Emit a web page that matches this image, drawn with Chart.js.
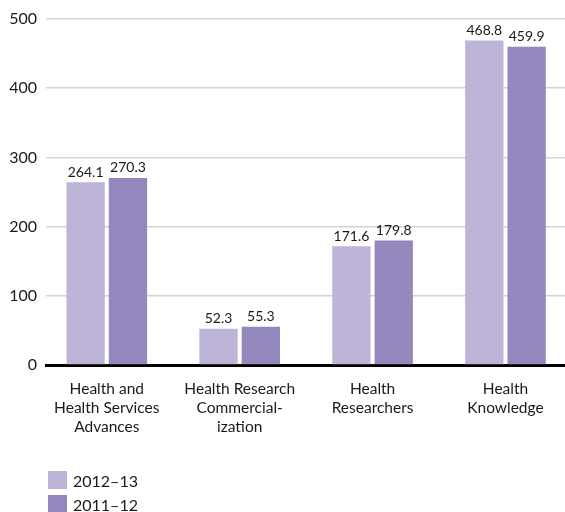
<!DOCTYPE html>
<html lang="en">
<head>
<meta charset="utf-8"/>
<title>Health spending by category</title>
<script src="https://cdn.jsdelivr.net/npm/chart.js@4.4.3/dist/chart.umd.min.js"></script>
<style>
  * { box-sizing: border-box; }
  html, body { margin: 0; padding: 0; background: #fff; overflow: hidden; }
  #wrap { position: relative; width: 565px; height: 512px; }
  #legend { position: absolute; left: 48px; top: 471px; font-family: Lato, sans-serif; font-size: 16px; color: #1a1a1a; }
  .item { display: flex; align-items: center; height: 18px; margin-bottom: 6px; }
  .sw { width: 19px; height: 18px; margin-right: 6px; }
</style>
</head>
<body>
<div id="wrap">
  <canvas id="chart" width="565" height="512"></canvas>
  <div id="legend"></div>
</div>
<script>
// data
const categories = [
  ['Health and', 'Health Services', 'Advances'],
  ['Health Research', 'Commercial-', 'ization'],
  ['Health', 'Researchers'],
  ['Health', 'Knowledge'],
];
const seriesNames = ['2012–13', '2011–12'];
const seriesColors = ['#bdb4d7', '#9487be'];
const values2012 = [264.1, 52.3, 171.6, 468.8];
const values2011 = [270.3, 55.3, 179.8, 459.9];
const yTicks = [0, 100, 200, 300, 400, 500];

const TEXT = '#1a1a1a';
const FONT = 'Lato, sans-serif';

const toPoints = (vals) => vals.map((v, i) => ({ x: i, y: v }));

// value labels above each bar
const valueLabels = {
  id: 'valueLabels',
  afterDatasetsDraw(chart) {
    const ctx = chart.ctx;
    ctx.save();
    ctx.font = '14px ' + FONT;
    ctx.fillStyle = TEXT;
    ctx.textAlign = 'center';
    ctx.textBaseline = 'bottom';
    chart.data.datasets.forEach((ds, di) => {
      chart.getDatasetMeta(di).data.forEach((bar, i) => {
        ctx.fillText(ds.data[i].y.toFixed(1), bar.x, bar.y - 3);
      });
    });
    ctx.restore();
  }
};

new Chart(document.getElementById('chart'), {
  type: 'bar',
  data: {
    datasets: [
      { label: seriesNames[0], data: toPoints(values2012), backgroundColor: seriesColors[0] },
      { label: seriesNames[1], data: toPoints(values2011), backgroundColor: seriesColors[1] },
    ]
  },
  options: {
    responsive: false,
    animation: false,
    categoryPercentage: 0.637,
    barPercentage: 0.905,
    layout: { padding: { top: 19, left: 0, right: 0, bottom: 57 } },
    plugins: { legend: { display: false }, tooltip: { enabled: false } },
    scales: {
      x: {
        type: 'linear',
        offset: false,
        min: -0.4575,
        max: 3.448,
        afterBuildTicks: (s) => { s.ticks = categories.map((_, i) => ({ value: i })); },
        afterFit: (s) => { s.height = 90; },
        grid: { display: false, drawTicks: false, offset: false },
        border: { display: true, color: '#000', width: 3 },
        ticks: {
          autoSkip: false, maxRotation: 0, padding: 14,
          color: TEXT, font: { family: FONT, size: 15.5, lineHeight: '19px' },
          callback: (v) => categories[v]
        }
      },
      y: {
        min: 0, max: 500,
        afterBuildTicks: (s) => { s.ticks = yTicks.map((v) => ({ value: v })); },
        afterFit: (s) => { s.width = 46; },
        border: { display: false },
        grid: {
          drawTicks: false, lineWidth: 1.5,
          color: (c) => (c.tick && c.tick.value === 0 ? 'rgba(0,0,0,0)' : '#d2d2d2')
        },
        ticks: { padding: 9, color: TEXT, font: { family: FONT, size: 16 } }
      }
    }
  },
  plugins: [valueLabels]
});

// legend stacked under the chart
document.getElementById('legend').innerHTML = seriesNames
  .map((n, i) => `<div class="item"><span class="sw" style="background:${seriesColors[i]}"></span>${n}</div>`)
  .join('');
</script>
</body>
</html>
